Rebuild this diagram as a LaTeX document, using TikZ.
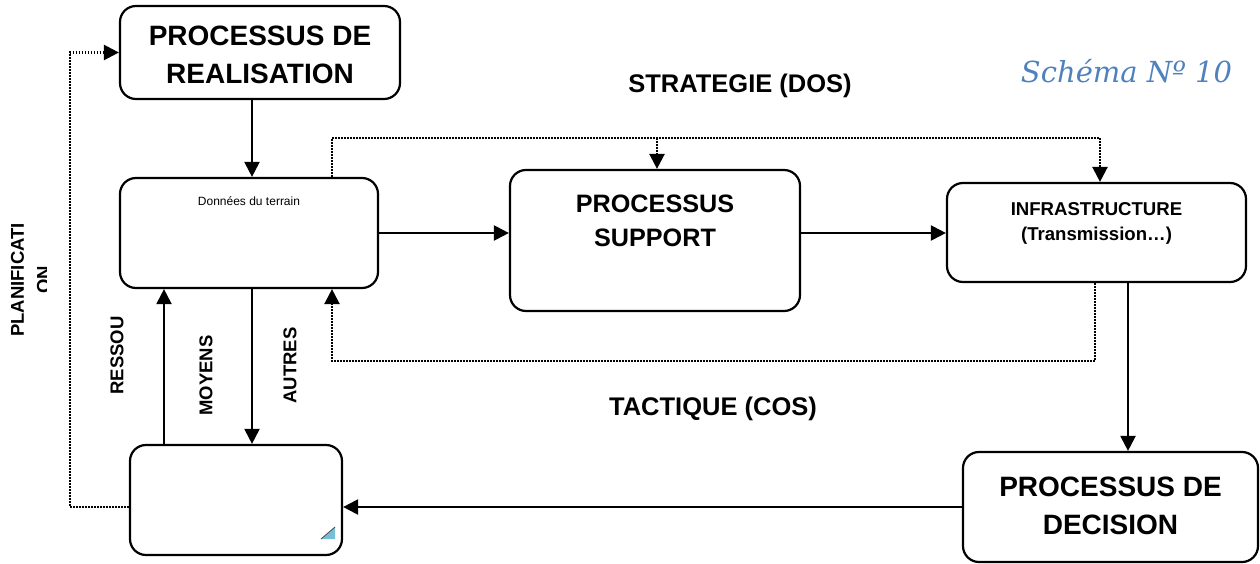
\documentclass[tikz,border=0pt]{standalone}
\usepackage{fontspec}
\setmainfont{Liberation Sans}
\newfontfamily\schemafont{DejaVu Serif}
\usetikzlibrary{arrows.meta}
\definecolor{schemablue}{RGB}{79,129,189}
\definecolor{cornerblue}{RGB}{120,190,212}
\begin{document}
\begin{tikzpicture}[x=1pt,y=-1pt,
  box/.style={draw, line width=2.2pt, rounded corners=16pt, inner sep=0pt},
  big/.style={font=\bfseries\fontsize{28}{38}\selectfont, align=center},
  head/.style={font=\bfseries\fontsize{25.5}{30}\selectfont},
  mid/.style={font=\bfseries\fontsize{18.5}{23.5}\selectfont, align=center},
  tip/.style={-{Triangle[length=15pt,width=15pt]}},
  arr/.style={line width=2.2pt, tip},
  dots/.style={line width=2.4pt, dash pattern=on 1.8pt off 1.2pt},
  dotarr/.style={dots, tip},
]
\useasboundingbox (0,0) rectangle (1260,564);

% process boxes
\node[box, minimum width=280pt, minimum height=93pt] (real) at (260,52.5) {};
\node[box, minimum width=258pt, minimum height=110pt] (don) at (249,233) {};
\node[box, minimum width=290pt, minimum height=141pt] (sup) at (655,240.5) {};
\node[box, minimum width=299pt, minimum height=99pt] (inf) at (1096.5,232.5) {};
\node[box, minimum width=295pt, minimum height=110pt] (dec) at (1110.5,507) {};
\node[box, minimum width=212pt, minimum height=110pt] (bl) at (236,500) {};

% box texts
\node[big] (realtxt) at (260,55) {PROCESSUS DE\\REALISATION};
\node[font=\fontsize{12}{14}\selectfont] (dontxt) at (249,201) {Données du terrain};
\node[font=\bfseries\fontsize{25.2}{34}\selectfont, align=center] (suptxt) at (655,221) {PROCESSUS\\SUPPORT};
\node[font=\bfseries\fontsize{18.6}{25}\selectfont, align=center] (inftxt) at (1096.5,223) {INFRASTRUCTURE\\(Transmission…)};
\node[big] (dectxt) at (1110.5,506) {PROCESSUS DE\\DECISION};

% free labels
\node[head] (strat) at (740,86) {STRATEGIE (DOS)};
\node[head] (tact) at (713,409) {TACTIQUE (COS)};
\node[mid, rotate=90] (ress) at (117,355.5) {RESSOU};
\node[mid, rotate=90] (moy) at (206,375.5) {MOYENS};
\node[mid, rotate=90] (aut) at (290,365.5) {AUTRES};
\begin{scope}
  \clip (0,0) rectangle (46,564);
  \node[mid, font=\bfseries\fontsize{18.5}{26}\selectfont, rotate=90] (plan) at (30.5,280) {PLANIFICATI\\ON};
\end{scope}
\node[font=\schemafont\itshape\fontsize{29}{32}\selectfont, text=schemablue] (schema) at (1126.5,71) {Schéma Nº 10};

% corner mark of the lower box
\fill[cornerblue] (321,539) -- (335,527) -- (335,539) -- cycle;
\draw[line width=0.8pt, black!70] (321,539) -- (335,527);

% solid connectors
\coordinate (rs) at ([xshift=-8pt]real.south);
\draw[arr] (rs) -- (rs |- don.north);
\draw[arr] (don.east) -- (don.east -| sup.west);
\draw[arr] (don.east -| sup.east) -- (don.east -| inf.west);
\coordinate (is) at ([xshift=31.5pt]inf.south);
\draw[arr] (is) -- (is |- dec.north);
\draw[arr] (dec.west) -- (dec.west -| bl.east);
\coordinate (bu) at ([xshift=-72pt]bl.north);
\draw[arr] (bu) -- (bu |- don.south);
\coordinate (dd) at ([xshift=3pt]don.south);
\draw[arr] (dd) -- (dd |- bl.north);

% dotted connectors
\coordinate (pl) at (70,0);
\draw[dotarr] (dec.west -| bl.west) -- (dec.west -| pl) -- (real.west -| pl) -- (real.west);
\coordinate (dn) at ([xshift=83pt]don.north);
\coordinate (top) at (0,138);
\coordinate (sn) at ([xshift=2pt]sup.north);
\coordinate (inn) at ([xshift=3.5pt]inf.north);
\draw[dots] (dn) -- (dn |- top) -- (inn |- top);
\draw[dotarr] (inn |- top) -- (inn);
\draw[dotarr] (sn |- top) -- (sn);
\coordinate (isd) at ([xshift=-1.5pt]inf.south);
\coordinate (low) at (0,361);
\coordinate (dsd) at ([xshift=83pt]don.south);
\draw[dotarr] (isd) -- (isd |- low) -- (dsd |- low) -- (dsd);
\end{tikzpicture}
\end{document}
